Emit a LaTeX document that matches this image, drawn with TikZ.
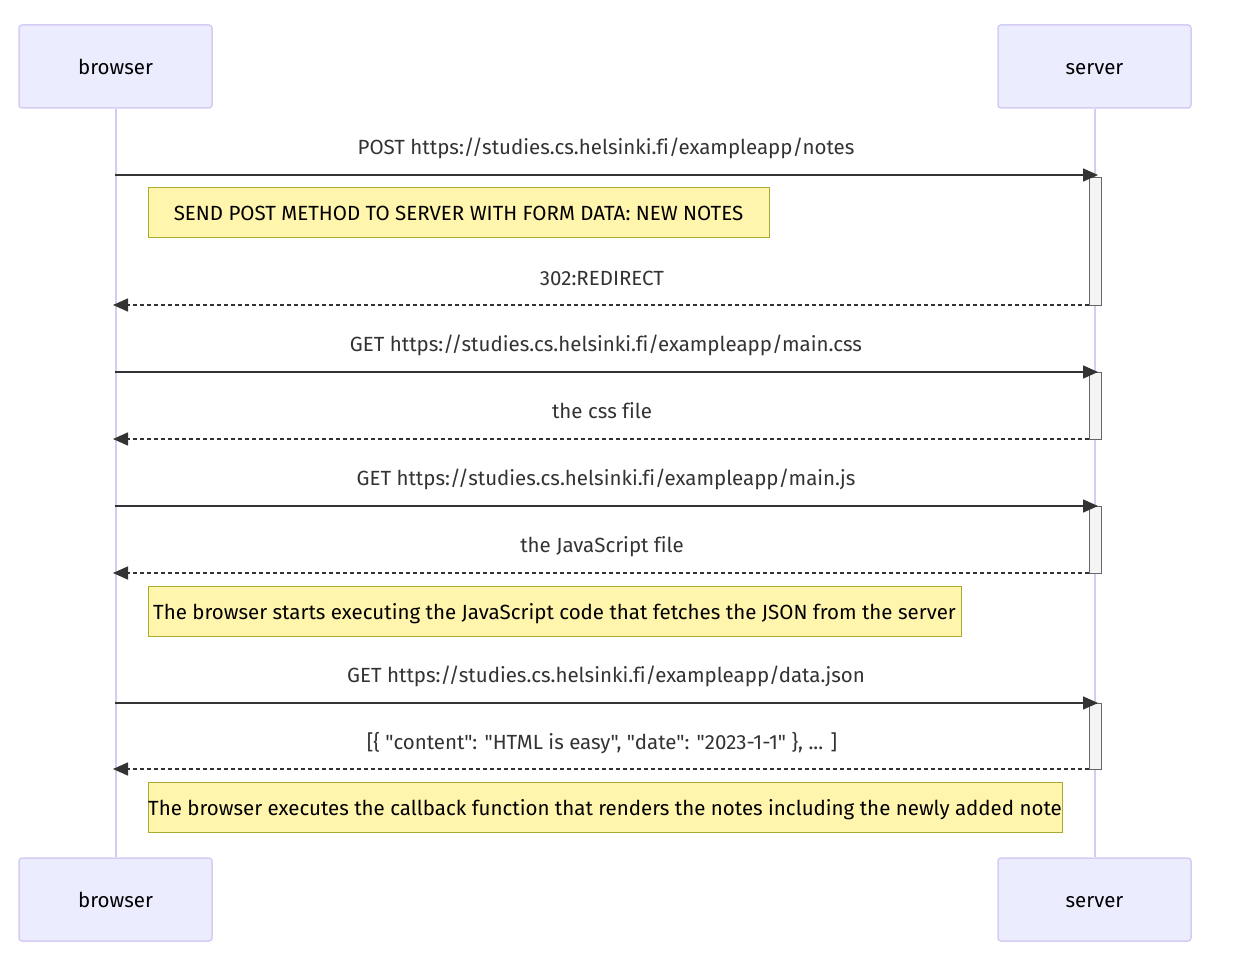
\documentclass[tikz,border=0pt]{standalone}
\usepackage{fontspec}
\newfontfamily\dfont[Ligatures=NoCommon]{Fira Sans}
\usetikzlibrary{arrows.meta}
\definecolor{actfill}{HTML}{ECECFF}
\definecolor{actdraw}{HTML}{D5CCF4}
\definecolor{lifeline}{HTML}{D5CCF4}
\definecolor{notefill}{HTML}{FFF5AD}
\definecolor{notedraw}{HTML}{AAAA33}
\definecolor{msg}{HTML}{333333}
\definecolor{actvfill}{HTML}{F4F4F4}
\definecolor{actvdraw}{HTML}{666666}
\begin{document}
\begin{tikzpicture}[x=1pt,y=-1pt,
  txt/.style={font=\dfont\fontsize{20.5}{24}\selectfont,text height=17pt,text depth=1pt},
  actor/.style={txt,draw=actdraw,fill=actfill,line width=1.5pt,rounded corners=3pt,minimum width=193pt,minimum height=83pt,inner sep=0pt},
  notebox/.style={txt,draw=notedraw,fill=notefill,line width=1pt,minimum height=50pt,inner sep=0pt,text=black},
  lbl/.style={txt,text=msg,inner sep=0pt},
  actv/.style={draw=actvdraw,fill=actvfill,line width=1pt,minimum width=12pt,inner sep=0pt},
  life/.style={draw=lifeline,line width=2pt},
  req/.style={draw=msg,line width=1.5pt,-{Triangle[length=15pt,width=13pt]}},
  resp/.style={draw=msg,line width=1.5pt,dash pattern=on 4pt off 3pt,-{Triangle[length=15pt,width=13pt]}}]
\useasboundingbox (0,0) rectangle (1257,968);
% actors
\node[actor] (bt) at (115.5,66.5) {browser};
\node[actor] (st) at (1094.5,66.5) {server};
\node[actor] (bb) at (115.5,899.5) {browser};
\node[actor] (sb) at (1094.5,899.5) {server};
\draw[life] (bt.south) -- (bb.north);
\draw[life] (st.south) -- (sb.north);
% activations
\node[actv,minimum height=127pt] (a1) at (1095,241.5) {};
\node[actv,minimum height=67pt] (a2) at (1095,405.5) {};
\node[actv,minimum height=67pt] (a3) at (1095,539.5) {};
\node[actv,minimum height=66pt] (a4) at (1095,736) {};
% coordinates
\coordinate (b1) at (115,175); \coordinate (s1) at (1098,175);
\coordinate (b2) at (113,305); \coordinate (s2) at (1089,305);
\coordinate (b3) at (115,372); \coordinate (s3) at (1098,372);
\coordinate (b4) at (113,439); \coordinate (s4) at (1089,439);
\coordinate (b5) at (115,506); \coordinate (s5) at (1098,506);
\coordinate (b6) at (113,573); \coordinate (s6) at (1089,573);
\coordinate (b7) at (115,703); \coordinate (s7) at (1098,703);
\coordinate (b8) at (113,769); \coordinate (s8) at (1089,769);
% messages
\draw[req] (b1) -- (s1);
\node[lbl] (m1) at (606,147) {POST https://studies.cs.helsinki.fi/exampleapp/notes};
\node[notebox,minimum width=621pt] (n1) at (458.5,213) {SEND POST METHOD TO SERVER WITH FORM DATA: NEW NOTES};
\draw[resp] (s2) -- (b2);
\node[lbl] (m2) at (602,277) {302:REDIRECT};
\draw[req] (b3) -- (s3);
\node[lbl] (m3) at (606,343) {GET https://studies.cs.helsinki.fi/exampleapp/main.css};
\draw[resp] (s4) -- (b4);
\node[lbl] (m4) at (602,410) {the css file};
\draw[req] (b5) -- (s5);
\node[lbl] (m5) at (606,477) {GET https://studies.cs.helsinki.fi/exampleapp/main.js};
\draw[resp] (s6) -- (b6);
\node[lbl] (m6) at (602,544) {the JavaScript file};
\node[notebox,minimum width=813pt] (n2) at (554.5,611) {The browser starts executing the JavaScript code that fetches the JSON from the server};
\draw[req] (b7) -- (s7);
\node[lbl] (m7) at (606,674) {GET https://studies.cs.helsinki.fi/exampleapp/data.json};
\draw[resp] (s8) -- (b8);
\node[lbl] (m8) at (602,741) {[\{ "content": "HTML is easy", "date": "2023-1-1" \}, ... ]};
\node[notebox,minimum width=914pt] (n3) at (605,807.5) {The browser executes the callback function that renders the notes including the newly added note};
\end{tikzpicture}
\end{document}
